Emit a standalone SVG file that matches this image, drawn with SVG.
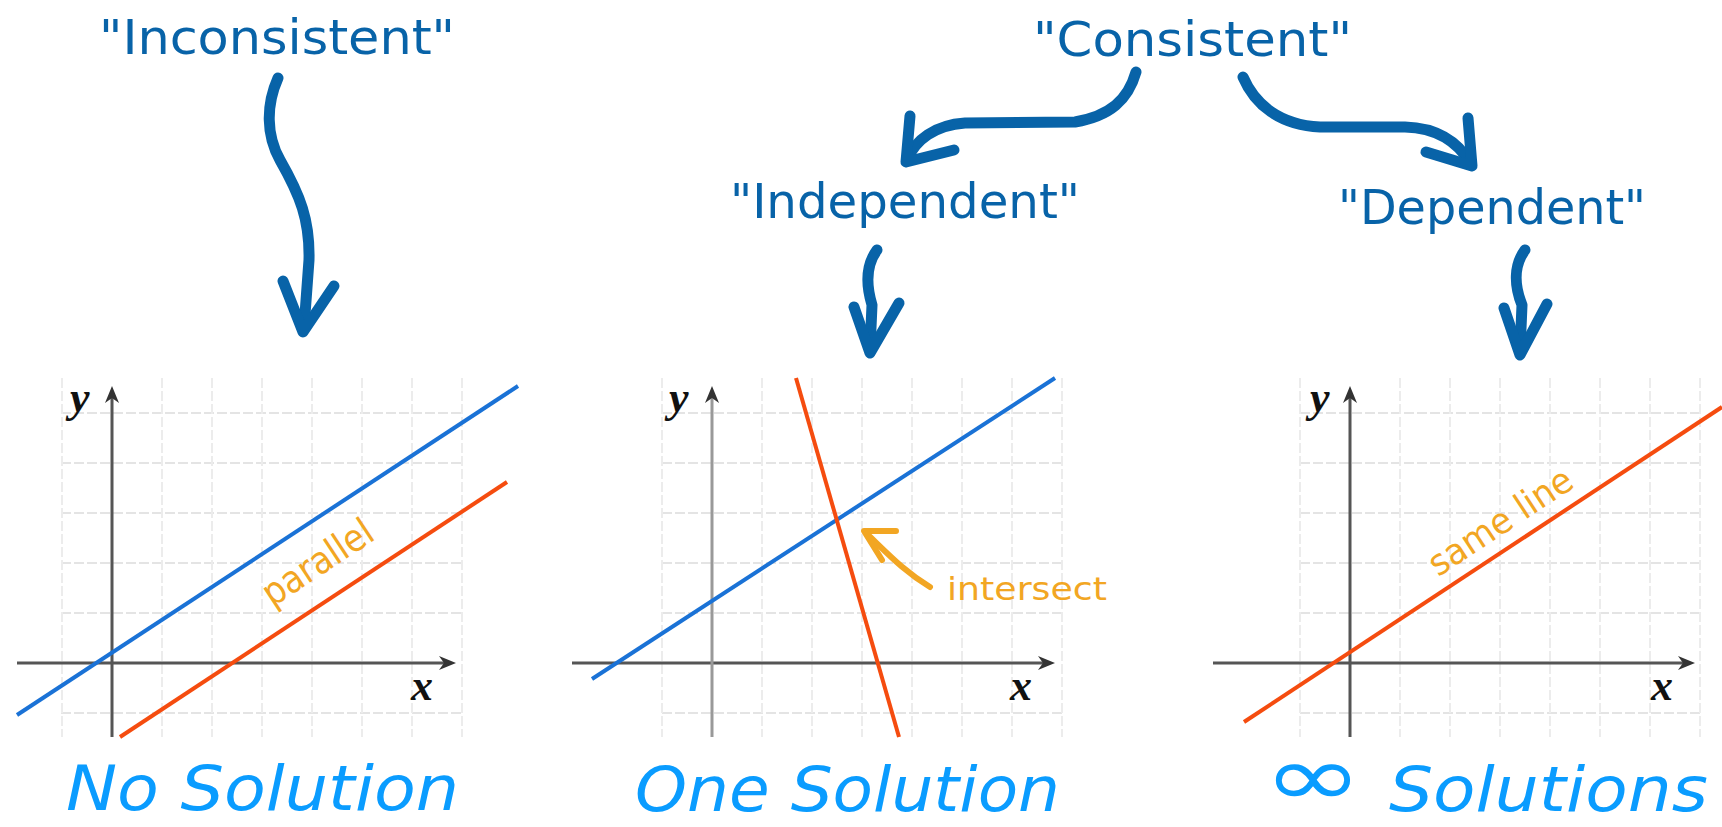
<svg xmlns="http://www.w3.org/2000/svg" width="1722" height="827" viewBox="0 0 1722 827">
<style>
.grid line{stroke:#e4e4e4;stroke-width:2;stroke-dasharray:10 3}
.gv line{stroke:#ececec;stroke-width:2;stroke-dasharray:10 3}
.axis{stroke:#555;stroke-width:3;fill:none}
.axhead{fill:#333}
.lab{font-family:"Liberation Serif","DejaVu Serif",serif;font-style:italic;font-weight:bold;font-size:44px;fill:#111}
.blue{stroke:#1a72d6;stroke-width:4;fill:none}
.orange{stroke:#f54c0f;stroke-width:4;fill:none}
.note{font-family:"DejaVu Sans Condensed","Liberation Sans Narrow","Liberation Sans",sans-serif;font-size:32px;fill:#f2a623}
.top{font-family:"DejaVu Sans Condensed","Liberation Sans Narrow","Liberation Sans",sans-serif;font-size:48px;fill:#0863a8}
.bot{font-family:"DejaVu Sans Condensed","Liberation Sans Narrow","Liberation Sans",sans-serif;font-size:62px;font-style:italic;fill:#0a9cff}
.arr{stroke:#0863a8;stroke-width:11;fill:none;stroke-linecap:round;stroke-linejoin:round}
.oarr{stroke:#f2a623;stroke-width:6;fill:none;stroke-linecap:round;stroke-linejoin:round}
</style>

<g id="panel-no-solution">
  <g class="grid">
    <line x1="61" y1="413" x2="461" y2="413"/><line x1="61" y1="463" x2="461" y2="463"/>
    <line x1="61" y1="513" x2="461" y2="513"/><line x1="61" y1="563" x2="461" y2="563"/>
    <line x1="61" y1="613" x2="461" y2="613"/><line x1="61" y1="713" x2="461" y2="713"/>
  </g>
  <g class="gv">
    <line x1="62" y1="378" x2="62" y2="737"/><line x1="162" y1="378" x2="162" y2="737"/>
    <line x1="212" y1="378" x2="212" y2="737"/><line x1="262" y1="378" x2="262" y2="737"/>
    <line x1="312" y1="378" x2="312" y2="737"/><line x1="362" y1="378" x2="362" y2="737"/>
    <line x1="412" y1="378" x2="412" y2="737"/><line x1="462" y1="378" x2="462" y2="737"/>
  </g>
  <line class="axis" x1="17" y1="663" x2="446" y2="663"/>
  <path class="axhead" d="M456,663 L439,656 L444,663 L439,670 Z"/>
  <line class="axis" x1="112" y1="737" x2="112" y2="396"/>
  <path class="axhead" d="M112,386 L105,403 L112,398 L119,403 Z"/>
  <text class="lab" x="70" y="412">y</text>
  <text class="lab" x="411" y="700">x</text>
  <line class="blue" x1="17" y1="715" x2="518" y2="386"/>
  <line class="orange" x1="120" y1="737" x2="507" y2="482"/>
  <text class="note" x="318" y="575" style="font-size:38px" text-anchor="middle" textLength="125" lengthAdjust="spacingAndGlyphs" transform="rotate(-33.4 318 563)">parallel</text>
</g>

<g id="panel-one-solution">
  <g class="grid">
    <line x1="662" y1="413" x2="1062" y2="413"/><line x1="662" y1="463" x2="1062" y2="463"/>
    <line x1="662" y1="513" x2="1062" y2="513"/><line x1="662" y1="563" x2="1062" y2="563"/>
    <line x1="662" y1="613" x2="1062" y2="613"/><line x1="662" y1="713" x2="1062" y2="713"/>
  </g>
  <g class="gv">
    <line x1="662" y1="378" x2="662" y2="737"/><line x1="762" y1="378" x2="762" y2="737"/>
    <line x1="812" y1="378" x2="812" y2="737"/><line x1="862" y1="378" x2="862" y2="737"/>
    <line x1="912" y1="378" x2="912" y2="737"/><line x1="962" y1="378" x2="962" y2="737"/>
    <line x1="1012" y1="378" x2="1012" y2="737"/><line x1="1062" y1="378" x2="1062" y2="737"/>
  </g>
  <line class="axis" x1="572" y1="663" x2="1045" y2="663"/>
  <path class="axhead" d="M1055,663 L1038,656 L1043,663 L1038,670 Z"/>
  <line x1="712" y1="737" x2="712" y2="396" stroke="#999" stroke-width="3"/>
  <path class="axhead" d="M712,386 L705,403 L712,398 L719,403 Z"/>
  <text class="lab" x="669" y="412">y</text>
  <text class="lab" x="1010" y="700">x</text>
  <line class="blue" x1="592" y1="679" x2="1055" y2="378"/>
  <line class="orange" x1="796" y1="378" x2="899" y2="737"/>
  <path class="oarr" d="M930,587 C905,572 890,556 866,533"/>
  <path class="oarr" d="M896,531 L864,531 L882,560"/>
  <text class="note" x="947" y="600" textLength="160" lengthAdjust="spacingAndGlyphs">intersect</text>
</g>

<g id="panel-infinite-solutions">
  <g class="grid">
    <line x1="1300" y1="413" x2="1700" y2="413"/><line x1="1300" y1="463" x2="1700" y2="463"/>
    <line x1="1300" y1="513" x2="1700" y2="513"/><line x1="1300" y1="563" x2="1700" y2="563"/>
    <line x1="1300" y1="613" x2="1700" y2="613"/><line x1="1300" y1="713" x2="1700" y2="713"/>
  </g>
  <g class="gv">
    <line x1="1300" y1="378" x2="1300" y2="737"/><line x1="1400" y1="378" x2="1400" y2="737"/>
    <line x1="1450" y1="378" x2="1450" y2="737"/><line x1="1500" y1="378" x2="1500" y2="737"/>
    <line x1="1550" y1="378" x2="1550" y2="737"/><line x1="1600" y1="378" x2="1600" y2="737"/>
    <line x1="1650" y1="378" x2="1650" y2="737"/><line x1="1700" y1="378" x2="1700" y2="737"/>
  </g>
  <line class="axis" x1="1213" y1="663" x2="1685" y2="663"/>
  <path class="axhead" d="M1695,663 L1678,656 L1683,663 L1678,670 Z"/>
  <line class="axis" x1="1350" y1="737" x2="1350" y2="396"/>
  <path class="axhead" d="M1350,386 L1343,403 L1350,398 L1357,403 Z"/>
  <text class="lab" x="1310" y="412">y</text>
  <text class="lab" x="1651" y="700">x</text>
  <line class="orange" x1="1244" y1="722" x2="1722" y2="407"/>
  <text class="note" x="1500" y="534" style="font-size:36px" text-anchor="middle" textLength="165" lengthAdjust="spacingAndGlyphs" transform="rotate(-33.4 1500 521)">same line</text>
</g>

<g id="label-inconsistent"><text class="top" x="99" y="54" textLength="356" lengthAdjust="spacingAndGlyphs">"Inconsistent"</text></g>
<g id="label-consistent"><text class="top" x="1033" y="56" textLength="319" lengthAdjust="spacingAndGlyphs">"Consistent"</text></g>
<g id="label-independent"><text class="top" x="730" y="218" textLength="350" lengthAdjust="spacingAndGlyphs">"Independent"</text></g>
<g id="label-dependent"><text class="top" x="1338" y="224" textLength="308" lengthAdjust="spacingAndGlyphs">"Dependent"</text></g>

<g id="title-no-solution"><text class="bot" x="66" y="810" textLength="393" lengthAdjust="spacingAndGlyphs">No Solution</text></g>
<g id="title-one-solution"><text class="bot" x="635" y="811" textLength="425" lengthAdjust="spacingAndGlyphs">One Solution</text></g>
<g id="title-infinite-solutions">
  <text class="bot" x="1263" y="806" font-style="normal" style="font-size:86px" textLength="100" lengthAdjust="spacingAndGlyphs">∞</text>
  <text class="bot" x="1389" y="811" textLength="319" lengthAdjust="spacingAndGlyphs">Solutions</text>
</g>

<g id="connectors">
  <path class="arr" d="M278,78 C266,105 266,135 280,160 C300,195 310,220 309,260 L304,328"/>
  <path class="arr" d="M283,281 L303,332 L334,286"/>
  <path class="arr" d="M1136,72 C1128,100 1110,116 1075,122 L965,123 C935,125 915,140 907,160"/>
  <path class="arr" d="M910,116 L906,162 L954,150"/>
  <path class="arr" d="M1243,77 C1255,105 1280,125 1320,127 L1405,127 C1440,128 1460,145 1471,164"/>
  <path class="arr" d="M1468,118 L1472,166 L1426,152"/>
  <path class="arr" d="M877,250 C866,265 866,285 872,305 L870,350"/>
  <path class="arr" d="M854,307 L870,353 L899,303"/>
  <path class="arr" d="M1525,250 C1514,265 1514,285 1522,305 L1520,352"/>
  <path class="arr" d="M1504,308 L1520,355 L1547,304"/>
</g>
</svg>
